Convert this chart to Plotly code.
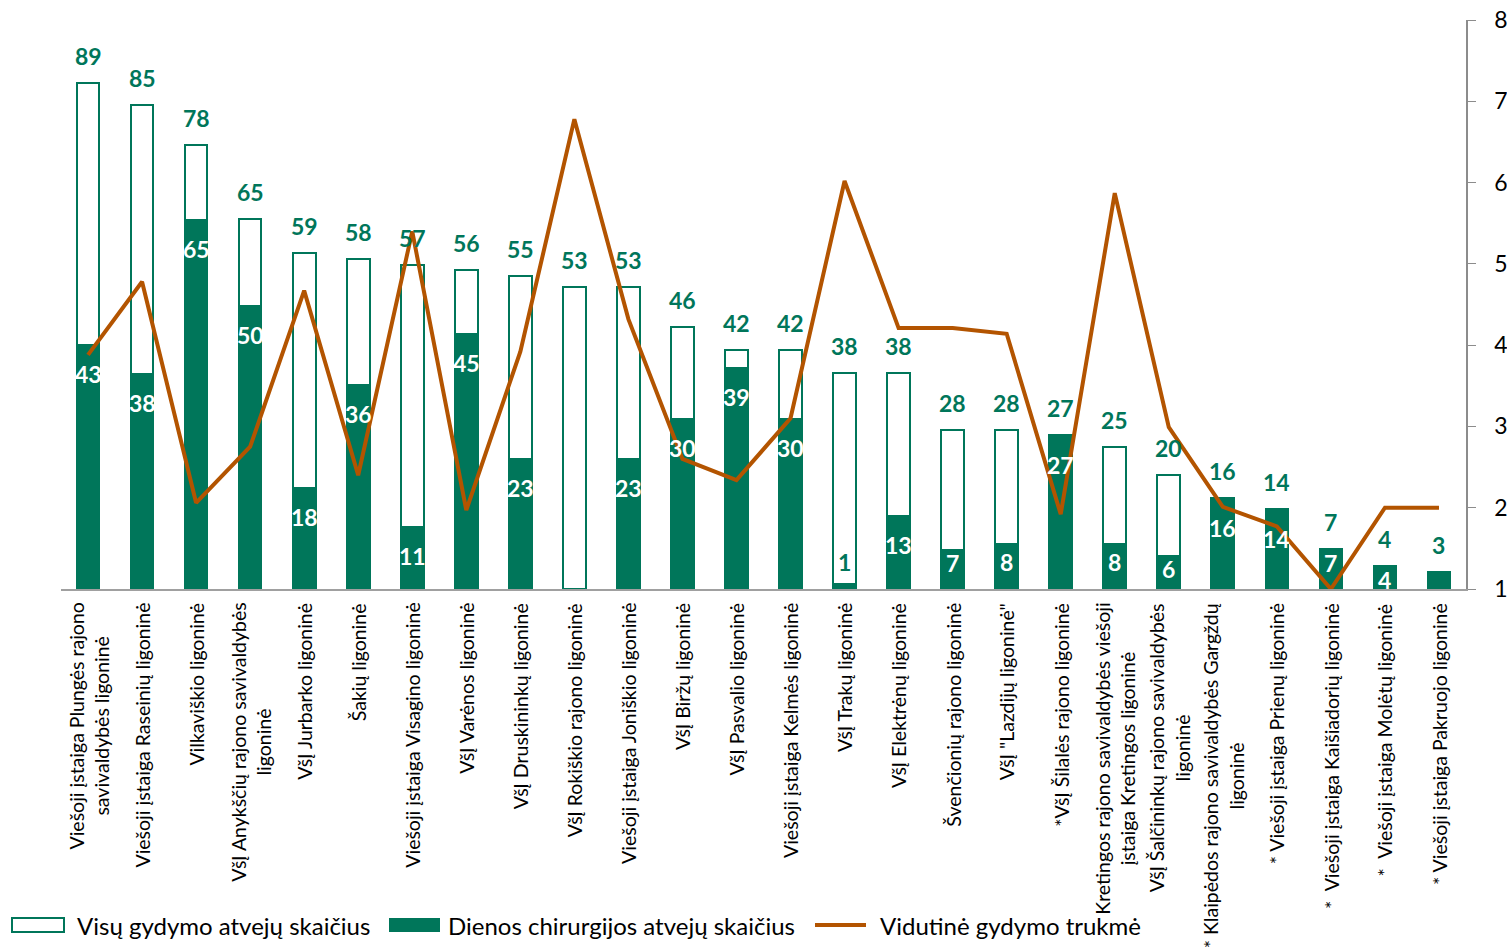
import plotly.graph_objects as go

categories = [
    "Viešoji įstaiga Plungės rajono<br>savivaldybės ligoninė",
    "Viešoji įstaiga Raseinių ligoninė",
    "Vilkaviškio ligoninė",
    "VšĮ Anykščių rajono savivaldybės<br>ligoninė",
    "VšĮ Jurbarko ligoninė",
    "Šakių ligoninė",
    "Viešoji įstaiga Visagino ligoninė",
    "VšĮ Varėnos ligoninė",
    "VšĮ Druskininkų ligoninė",
    "VšĮ Rokiškio rajono ligoninė",
    "Viešoji įstaiga Joniškio ligoninė",
    "VšĮ Biržų ligoninė",
    "VšĮ Pasvalio ligoninė",
    "Viešoji įstaiga Kelmės ligoninė",
    "VšĮ Trakų ligoninė",
    "VšĮ Elektrėnų ligoninė",
    "Švenčionių rajono ligoninė",
    "VšĮ \"Lazdijų ligoninė\"",
    "*VšĮ Šilalės rajono ligoninė",
    "Kretingos rajono savivaldybės viešoji<br>įstaiga Kretingos ligoninė",
    "VšĮ Šalčininkų rajono savivaldybės<br>ligoninė",
    "* Klaipėdos rajono savivaldybės Gargždų<br>ligoninė",
    "* Viešoji įstaiga Prienų ligoninė",
    "*  Viešoji įstaiga Kaišiadorių ligoninė",
    "*  Viešoji įstaiga Molėtų ligoninė",
    "* Viešoji įstaiga Pakruojo ligoninė",
]

total_cases = [89, 85, 78, 65, 59, 58, 57, 56, 55, 53, 53, 46, 42, 42, 38, 38,
               28, 28, 27, 25, 20, 16, 14, 7, 4, 3]
day_surgery = [43, 38, 65, 50, 18, 36, 11, 45, 23, 0, 23, 30, 39, 30, 1, 13,
               7, 8, 27, 8, 6, 16, 14, 7, 4, 3]
day_labels = ["43", "38", "65", "50", "18", "36", "11", "45", "23", "", "23", "30",
              "39", "30", "1", "13", "7", "8", "27", "8", "6", "16", "14", "7", "4", ""]
avg_duration = [3.88, 4.78, 2.06, 2.75, 4.67, 2.40, 5.40, 1.97, 3.92, 6.78, 4.32,
                2.60, 2.34, 3.10, 6.02, 4.21, 4.21, 4.14, 1.92, 5.87, 2.99, 2.01,
                1.77, 1.00, 2.00, 2.00]

legend_names = ["Visų gydymo atvejų skaičius", "Dienos chirurgijos atvejų skaičius",
                "Vidutinė gydymo trukmė"]
y2_ticks = [1, 2, 3, 4, 5, 6, 7, 8]

GREEN = "#00765A"
ORANGE = "#B35400"
FONT = "Lato"

W, H = 1507, 950
ML, MR, MT, MB = 61, 41, 20, 361
PW = W - ML - MR
PH = H - MT - MB
Y1_MAX = 100


def px_x(px):
    return (px - ML) / PW


def px_y(py):
    return (H - MB - py) / PH


x = list(range(len(categories)))

fig = go.Figure()
fig.add_trace(go.Bar(
    x=x, y=total_cases, name=legend_names[0], width=0.42,
    marker=dict(color="white", line=dict(color=GREEN, width=2)),
    showlegend=False, hoverinfo="y",
))
fig.add_trace(go.Bar(
    x=x, y=day_surgery, name=legend_names[1], width=0.42,
    marker=dict(color=GREEN, line=dict(color=GREEN, width=0)),
    showlegend=False, hoverinfo="y",
))
fig.add_trace(go.Scatter(
    x=x, y=avg_duration, name=legend_names[2], yaxis="y2", mode="lines",
    line=dict(color=ORANGE, width=4), cliponaxis=False, showlegend=False,
))

annotations = []
unit_px = PH / Y1_MAX
for i, (t, d, dl) in enumerate(zip(total_cases, day_surgery, day_labels)):
    annotations.append(dict(
        x=i, y=t, xref="x", yref="y", text=str(t), showarrow=False,
        yshift=27, yanchor="middle",
        font=dict(family=FONT, size=23, color=GREEN, weight="bold"),
    ))
    if dl:
        top = d * unit_px
        if d <= 1:
            off, col = 27, GREEN
        else:
            off, col = max(top - 30, min(27, top - 14)), "white"
        annotations.append(dict(
            x=i, y=0, xref="x", yref="y", text=dl, showarrow=False,
            yshift=off, yanchor="middle",
            font=dict(family=FONT, size=23, color=col, weight="bold"),
        ))
    # category labels
    annotations.append(dict(
        x=i, y=0, xref="x", yref="paper", text=categories[i], showarrow=False,
        textangle=-90, yanchor="top", xanchor="center", align="center",
        yshift=-12, font=dict(family=FONT, size=19.5, color="black"),
    ))

# manual legend
leg_y = 925
shapes = [
    dict(type="rect", xref="paper", yref="paper",
         x0=px_x(12), x1=px_x(64), y0=px_y(932), y1=px_y(918),
         line=dict(color=GREEN, width=2), fillcolor="white"),
    dict(type="rect", xref="paper", yref="paper",
         x0=px_x(389), x1=px_x(440), y0=px_y(932), y1=px_y(918),
         line=dict(color=GREEN, width=0), fillcolor=GREEN),
    dict(type="line", xref="paper", yref="paper",
         x0=px_x(815), x1=px_x(866), y0=px_y(leg_y), y1=px_y(leg_y),
         line=dict(color=ORANGE, width=4)),
]
for name, px0 in zip(legend_names, [75, 446, 878]):
    annotations.append(dict(
        x=px_x(px0), y=px_y(leg_y), xref="paper", yref="paper", text=name,
        showarrow=False, xanchor="left", yanchor="middle",
        font=dict(family=FONT, size=24, color="black"),
    ))

fig.update_layout(
    width=W, height=H, autosize=False,
    margin=dict(l=ML, r=MR, t=MT, b=MB),
    plot_bgcolor="white", paper_bgcolor="white",
    barmode="overlay", bargap=0,
    font=dict(family=FONT),
    xaxis=dict(range=[-0.5, len(categories) - 0.5], showticklabels=False,
               showgrid=False, zeroline=False, showline=True,
               linecolor="#A0A0A0", linewidth=1.5, ticks=""),
    yaxis=dict(range=[0, Y1_MAX], visible=False, showgrid=False),
    yaxis2=dict(range=[1, 8], tickvals=y2_ticks, overlaying="y", side="right",
                showgrid=False, zeroline=False, showline=True,
                linecolor="#8C8C8C", linewidth=1.5, ticks="outside",
                ticklen=8, tickcolor="#8C8C8C", ticklabelstandoff=14,
                automargin=False,
                tickfont=dict(family=FONT, size=23, color="black")),
)
fig.update_layout(shapes=shapes, annotations=annotations)

fig.write_html(
    "out.html",
    config={"displayModeBar": False},
    post_script="document.body.style.margin='0';document.body.style.overflow='hidden';",
)
